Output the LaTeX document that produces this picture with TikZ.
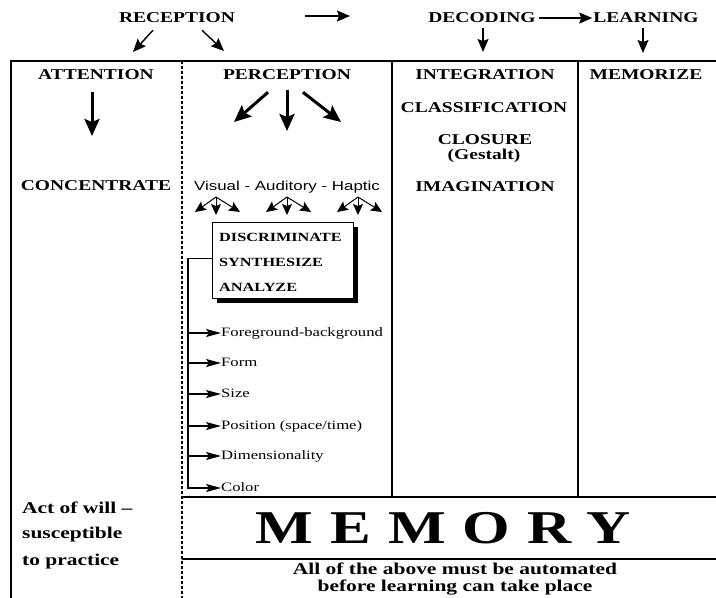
\documentclass[tikz,border=0pt]{standalone}
\usepackage{fontspec}
\setmainfont{Liberation Serif}[FakeStretch=1.3]
\setsansfont{Liberation Sans}[FakeStretch=1.3]
\usetikzlibrary{arrows.meta,shadows,calc}

\tikzset{
	heading/.style={font=\fontsize{15}{18}\selectfont\bfseries, inner sep=0pt},
	leftnote/.style={font=\fontsize{16.5}{20}\selectfont\bfseries, inner sep=0pt, anchor=west},
	senses/.style={font=\sffamily\fontsize{13}{15}\selectfont, inner sep=0pt},
	boxtext/.style={font=\fontsize{12.5}{15}\selectfont\bfseries, inner sep=0pt, anchor=west},
	feature/.style={font=\fontsize{12.8}{15}\selectfont, inner sep=0pt, anchor=west, text height=9pt, text depth=3pt},
	frame/.style={line width=2.2pt},
	thinarrow/.style={line width=1.4pt, -{Stealth[length=13pt,width=11pt,inset=2pt]}},
	thickarrow/.style={line width=3pt, -{Stealth[length=17pt,width=15pt,inset=3pt]}},
	smallarrow/.style={line width=1pt, -{Stealth[length=11pt,width=10pt,inset=2pt]}},
	featarrow/.style={line width=1.1pt, -{Stealth[length=15pt,width=8pt,inset=3pt]}}
}

\begin{document}
\begin{tikzpicture}[x=1pt,y=-1pt]
	\useasboundingbox (0,0) rectangle (716,598);

	%stages along the top
	\node[heading] (recep) at (177,18) {RECEPTION};
	\node[heading] (decod) at (482,18) {DECODING};
	\node[heading] (learn) at (646,18) {LEARNING};
	\coordinate (flowA) at (305,16);
	\coordinate (flowB) at (350,16);
	\draw[thinarrow] (flowA) -- (flowB);
	\draw[thinarrow, shorten <=3pt, shorten >=1pt] (decod.east) -- (learn.west);
	%arrows down into the columns
	\coordinate (recL) at (133,52);
	\coordinate (recR) at (224,51);
	\coordinate (decEnd) at (483,52);
	\coordinate (lrnEnd) at (643,53);
	\draw[thinarrow] ($(recep.south)+(-24,7)$) -- (recL);
	\draw[thinarrow] ($(recep.south)+(25,7)$) -- (recR);
	\draw[thinarrow] (decod.south -| decEnd) ++(0,5) -- (decEnd);
	\draw[thinarrow] (learn.south -| lrnEnd) ++(0,5) -- (lrnEnd);

	%frame, columns and memory band
	\draw[frame] (11,598) -- (11,61) -- (716,61);
	\draw[line width=2.2pt, dash pattern=on 3pt off 2pt] (182,61) -- (182,598);
	\draw[frame] (392,61) -- (392,497);
	\draw[frame] (578,61) -- (578,497);
	\draw[frame] (182,497) -- (716,497);
	\draw[frame] (182,559) -- (716,559);

	%attention column
	\node[heading] (atten) at (96,75) {ATTENTION};
	\node[heading] (conc) at (96,186) {CONCENTRATE};
	\coordinate (attEnd) at (92,136);
	\draw[thickarrow] (atten.south -| attEnd) ++(0,12) -- (attEnd);
	\node[leftnote] (will) at (22,508) {Act of will --};
	\node[leftnote] (susc) at (22,535) {susceptible};
	\node[leftnote] (prac) at (22,562) {to practice};

	%perception column
	\node[heading] (perc) at (287,75) {PERCEPTION};
	\coordinate (percL) at (234,122);
	\coordinate (percM) at (287,131);
	\coordinate (percR) at (341,122);
	\draw[thickarrow] ($(perc.south)+(-19,12)$) -- (percL);
	\draw[thickarrow] ($(perc.south)+(0,10)$) -- (percM);
	\draw[thickarrow] ($(perc.south)+(16,12)$) -- (percR);
	\node[senses] (sense) at (287,187) {Visual - Auditory - Haptic};
	%three small arrows under each sense
	\begin{scope}[shift={(216,197)}]
		\draw[smallarrow] (0,0) -- (-21,15);
		\draw[smallarrow] (0,0) -- (0,18);
		\draw[smallarrow] (0,0) -- (24,15);
	\end{scope}
	\begin{scope}[shift={(287,197)}]
		\draw[smallarrow] (0,0) -- (-21,15);
		\draw[smallarrow] (0,0) -- (0,18);
		\draw[smallarrow] (0,0) -- (24,15);
	\end{scope}
	\begin{scope}[shift={(358,197)}]
		\draw[smallarrow] (0,0) -- (-21,15);
		\draw[smallarrow] (0,0) -- (0,18);
		\draw[smallarrow] (0,0) -- (24,15);
	\end{scope}

	%box with shadow
	\node[draw, fill=white, line width=0.8pt, minimum width=141pt, minimum height=76pt, inner sep=0pt,
		drop shadow={shadow xshift=5pt, shadow yshift=-5pt, fill=black, opacity=1}] (sortbox) at (282.5,260) {};
	\node[boxtext] (disc) at (219,237) {DISCRIMINATE};
	\node[boxtext] (synth) at (219,262) {SYNTHESIZE};
	\node[boxtext] (anal) at (219,287) {ANALYZE};

	%features hanging off the box
	\coordinate (spine) at (188,258);
	\draw[line width=0.8pt] (sortbox.west |- spine) -- (spine);
	\node[feature] (fg) at (221,333) {Foreground-background};
	\node[feature] (form) at (221,363) {Form};
	\node[feature] (size) at (221,394) {Size};
	\node[feature] (posi) at (221,426) {Position (space/time)};
	\node[feature] (dime) at (221,456) {Dimensionality};
	\node[feature] (colr) at (221,488) {Color};
	\draw[featarrow] (spine) |- (colr.west);
	\draw[featarrow] (spine |- fg.west) -- (fg.west);
	\draw[featarrow] (spine |- form.west) -- (form.west);
	\draw[featarrow] (spine |- size.west) -- (size.west);
	\draw[featarrow] (spine |- posi.west) -- (posi.west);
	\draw[featarrow] (spine |- dime.west) -- (dime.west);

	%decoding column
	\node[heading] (integ) at (485,75) {INTEGRATION};
	\node[heading] (class) at (484,108) {CLASSIFICATION};
	\node[heading] (clos) at (485,140) {CLOSURE};
	\node[heading] (gest) at (484,156) {(Gestalt)};
	\node[heading] (imag) at (485,187) {IMAGINATION};

	%learning column
	\node[heading] (memz) at (646,75) {MEMORIZE};

	%memory band
	\node[inner sep=0pt, font=\fontsize{47}{50}\selectfont\bfseries\addfontfeature{LetterSpace=36}] (memory) at (443,528) {MEMORY};
	\node[align=center, inner sep=0pt, font=\fontsize{16.5}{17}\selectfont\bfseries] (autom) at (455,579) {All of the above must be automated\\before learning can take place};

\end{tikzpicture}
\end{document}
